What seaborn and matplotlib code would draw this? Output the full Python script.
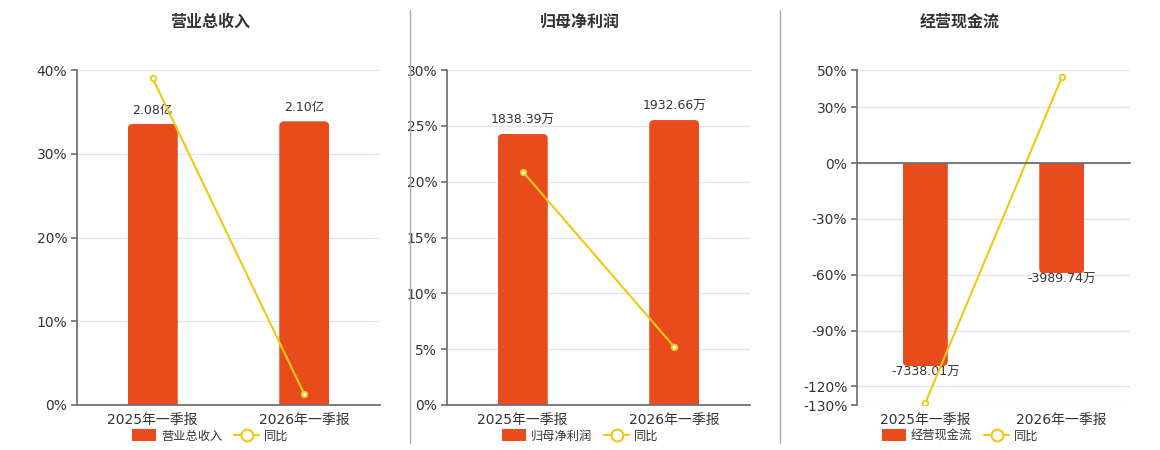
import numpy as np
import pandas as pd
import seaborn as sns
import matplotlib.pyplot as plt
from matplotlib.patches import FancyBboxPatch, Patch
from matplotlib.lines import Line2D

# data
periods = ["2025年一季报", "2026年一季报"]

titles = ["营业总收入", "归母净利润", "经营现金流"]
bar_values = [[2.08, 2.10], [1838.39, 1932.66], [-7338.01, -3989.74]]
bar_labels = [["2.08亿", "2.10亿"], ["1838.39万", "1932.66万"], ["-7338.01万", "-3989.74万"]]
yoy_pct = [[39.0, 1.3], [20.9, 5.2], [-129.0, 46.0]]

pct_ticks = [[0, 10, 20, 30, 40], [0, 5, 10, 15, 20, 25, 30], [50, 30, 0, -30, -60, -90, -120, -130]]
pct_limits = [(0, 40), (0, 30), (-130, 50)]
bar_limits = [(0, 2.48), (0, 2272), (-8748, 3362)]

BAR_COLOR = "#E84C1D"
LINE_COLOR = "#F2C811"
AXIS_COLOR = "#6E7079"
GRID_COLOR = "#E0E6F1"
TEXT_COLOR = "#333333"

W, H = 1160, 450
sns.set_theme(style="white")
plt.rcParams['font.family'] = ['DejaVu Sans', 'Noto Sans CJK SC']

fig = plt.figure(figsize=(W / 100, H / 100), dpi=100)


def rect(x0, y0, x1, y1):
    return [x0 / W, 1 - y1 / H, (x1 - x0) / W, (y1 - y0) / H]


panels = [(77, 70, 380, 405), (447, 70, 750, 405), (857, 70, 1130, 405)]
title_x = [210, 580, 960]


def round_bars(ax, box, r_px=5):
    # swap square bars for ones with a rounded far end
    x0, y0, x1, y1 = box
    xl, yl = ax.get_xlim(), ax.get_ylim()
    dx = (xl[1] - xl[0]) / (x1 - x0)
    dy = (yl[1] - yl[0]) / (y1 - y0)
    for p in list(ax.patches):
        x, y, w, h = p.get_x(), p.get_y(), p.get_width(), p.get_height()
        p.set_visible(False)
        ext = 3 * r_px * dy  # push the zero end past the axis and clip it off
        if h >= 0:
            bottom, height = y - ext, h + ext
        else:
            bottom, height = y + h, -h + ext
        fb = FancyBboxPatch((x, bottom), w, height,
                            boxstyle=f"round,pad=0,rounding_size={r_px * dx}",
                            mutation_aspect=dy / dx, fc=BAR_COLOR, ec="none", zorder=2)
        ax.add_patch(fb)
        fb.set_clip_path(p)


for i, box in enumerate(panels):
    ax = fig.add_axes(rect(*box))
    ax_bar = ax.twinx()
    ax_line = ax.twinx()

    # base axis: grid, y ticks, category labels
    ax.set_ylim(*pct_limits[i])
    ax.set_yticks(pct_ticks[i])
    ax.set_yticklabels([f"{t}%" for t in pct_ticks[i]])
    ax.yaxis.grid(True, color=GRID_COLOR, lw=1)
    ax.set_axisbelow(True)
    for s in ["top", "right", "bottom"]:
        ax.spines[s].set_visible(False)
    ax.spines["left"].set_color(AXIS_COLOR)
    ax.tick_params(axis="y", left=True, length=4, color=AXIS_COLOR, labelsize=10,
                   labelcolor=TEXT_COLOR, pad=3)

    # bars
    df = pd.DataFrame({"period": periods, "value": bar_values[i]})
    sns.barplot(data=df, x="period", y="value", ax=ax_bar, color=BAR_COLOR,
                width=0.33, saturation=1)
    ax_bar.set_ylim(*bar_limits[i])
    ax_bar.set_xlim(-0.5, len(periods) - 0.5)
    ax_bar.bar_label(ax_bar.containers[0], labels=bar_labels[i],
                     padding=5 if i < 2 else 0, fontsize=9, color=TEXT_COLOR)
    ax_bar.set_yticks([])
    ax_bar.set_ylabel("")
    ax_bar.set_xlabel("")
    for s in ax_bar.spines.values():
        s.set_visible(False)

    # yoy line
    ax_line.set_zorder(3)
    sns.lineplot(x=np.arange(len(periods)), y=yoy_pct[i], ax=ax_line, color=LINE_COLOR,
                 lw=1.5, marker="o", markersize=4, markerfacecolor="white",
                 markeredgecolor=LINE_COLOR, markeredgewidth=1.3)
    ax_line.set_ylim(*pct_limits[i])
    ax_line.set_yticks([])
    for s in ["top", "right", "left"]:
        ax_line.spines[s].set_visible(False)
    ax_line.spines["bottom"].set_position(("data", 0))
    ax_line.spines["bottom"].set_color(AXIS_COLOR)
    ax_line.spines["bottom"].set_linewidth(1.3)

    # shared x ticks: labels at categories, marks at boundaries
    ax.set_xlim(-0.5, len(periods) - 0.5)
    ax.set_xticks(range(len(periods)))
    ax.set_xticklabels(periods)
    ax.set_xticks(np.arange(len(periods) + 1) - 0.5, minor=True)
    ax.tick_params(axis="x", which="major", length=0, labelsize=10, labelcolor=TEXT_COLOR, pad=6)
    ax.tick_params(axis="x", which="minor", length=0)
    ax_line.tick_params(axis="x", which="major", length=0, labelbottom=False)
    ax_line.tick_params(axis="x", which="minor", bottom=True, length=5, width=1,
                        color=AXIS_COLOR, direction="out")
    ax_bar.tick_params(axis="x", which="both", length=0, labelbottom=False)

    round_bars(ax_bar, box)

    fig.text(title_x[i] / W, 1 - 22 / H, titles[i], ha="center", va="center",
             fontsize=11.5, fontweight="bold", color=TEXT_COLOR, family="Noto Sans CJK SC")

    handles = [Patch(fc=BAR_COLOR, ec="none"),
               Line2D([0], [0], color=LINE_COLOR, lw=1.5, marker="o", markersize=8.5,
                      markerfacecolor="white", markeredgewidth=1.5)]
    fig.legend(handles, [titles[i], "同比"], loc="center", ncol=2, frameon=False,
               bbox_to_anchor=(title_x[i] / W, 1 - 436 / H),
               fontsize=8.8, labelcolor=TEXT_COLOR, handlelength=2.0, handleheight=1.1,
               columnspacing=1.0, handletextpad=0.4)

# panel separators
for x in [410, 780]:
    fig.add_artist(Line2D([x / W, x / W], [1 - 10 / H, 1 - 443 / H], color="#AAAAAA", lw=1))

fig.savefig("out.png", dpi=100)
